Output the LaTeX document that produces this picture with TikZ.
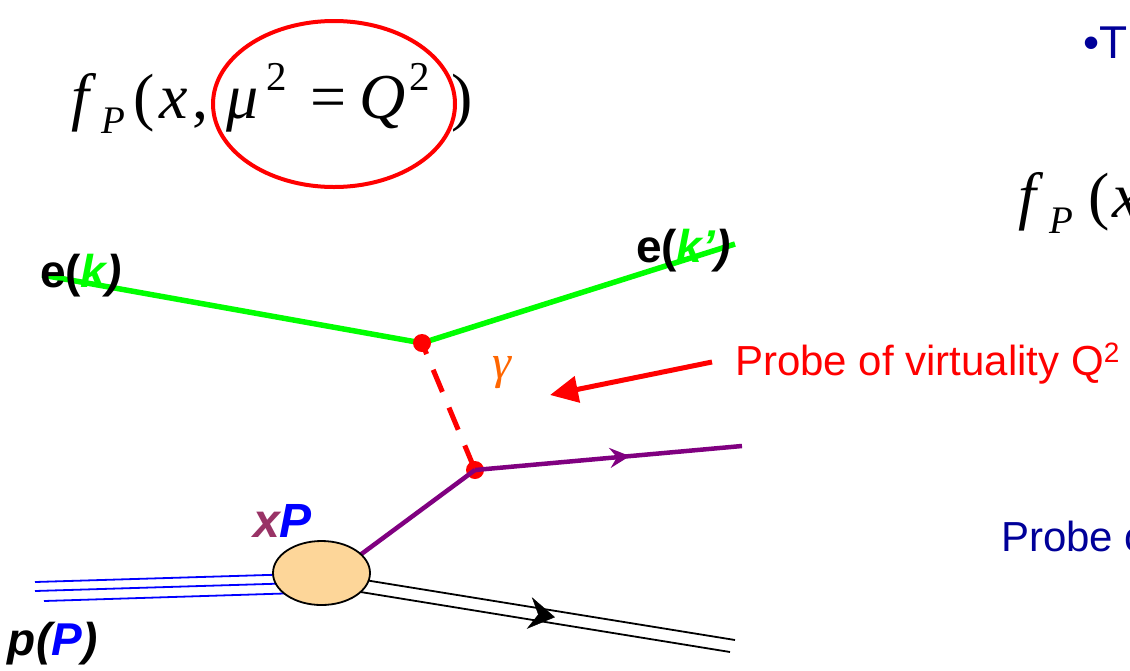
\documentclass[tikz,border=0pt]{standalone}
\usepackage{fontspec}
\setmainfont{Liberation Sans}
\newfontfamily\tnr{Liberation Serif}
\usetikzlibrary{arrows.meta,decorations.markings,shapes.geometric}
\newcommand\myfs[1]{\fontsize{#1}{#1}\selectfont}
\definecolor{egreen}{RGB}{0,255,0}
\definecolor{qpurple}{RGB}{128,0,128}
\definecolor{xmaroon}{RGB}{153,51,102}
\definecolor{pblue}{RGB}{0,0,255}
\definecolor{navy}{RGB}{0,0,153}
\definecolor{gorange}{RGB}{255,102,0}
\definecolor{blobfill}{RGB}{253,214,153}
\begin{document}
\begin{tikzpicture}[x=1pt,y=-1pt,
  lbl/.style={inner sep=0pt, outer sep=0pt, anchor=base west},
  mth/.style={inner sep=0pt, outer sep=0pt, anchor=base, font=\tnr\myfs{64}},
  mthi/.style={mth, font=\tnr\itshape\myfs{64}},
  msub/.style={inner sep=0pt, outer sep=0pt, anchor=base, font=\tnr\itshape\myfs{39}},
  msup/.style={inner sep=0pt, outer sep=0pt, anchor=base, font=\tnr\myfs{41}},
  vdot/.style={circle, fill=red, minimum size=18pt, inner sep=0pt},
  eline/.style={egreen, line width=5.5pt},
  qline/.style={qpurple, line width=4.5pt},
  pline/.style={pblue, line width=1.8pt},
  rline/.style={black, line width=1.8pt},
  blob/.style={ellipse, draw=black, line width=1.8pt, fill=blobfill, minimum width=97pt, minimum height=64pt, inner sep=0pt},
  midarrow/.style 2 args={postaction={decorate}, decoration={markings, mark=at position #1 with {\arrow{#2}}}}
]
\useasboundingbox (0,0) rectangle (1130,670);
\clip (0,0) rectangle (1130,670);

% ---------- formula top left ----------
\node[mthi] (fa) at (80.5,118) {f};
\node[msub] (fb) at (113.5,133) {P};
\node[mth]  (fc) at (144,118) {(};
\node[mthi] (fd) at (174,118) {x};
\node[mth]  (fe) at (200,118) {,};
\node[mthi] (ff) at (242.5,118) {μ};
\node[msup] (fg) at (277,90) {2};
\node[mth]  (fh) at (328.5,118) {=};
\node[mthi] (fi) at (383,118) {Q};
\node[msup] (fj) at (420,90) {2};
\node[mth]  (fk) at (462.5,118) {)};
\node[ellipse, draw=red, line width=4pt, minimum width=242pt, minimum height=166pt, inner sep=0pt] (ring) at (334,104) {};

% ---------- right side texts ----------
\node[lbl, font=\myfs{46}, text=navy] (bul) at (1083,58) {•T};
\node[mthi] (ga) at (1027,217) {f};
\node[msub] (gb) at (1061,233) {P};
\node[mth]  (gc) at (1099,217) {(};
\node[mthi] (gd) at (1127,217) {x};
\node[lbl, font=\myfs{42}, text=navy] (pr2) at (1001,551) {Probe o};

% ---------- coordinates ----------
\coordinate (ein) at (42,275);
\coordinate (v1c) at (422,343);
\coordinate (eout) at (735,244);
\coordinate (v2c) at (475,470);
\coordinate (qout) at (742,446);
\coordinate (qin) at (352,561);
\coordinate (b1s) at (35,582);
\coordinate (b1e) at (300,574);
\coordinate (b2s) at (35,591);
\coordinate (b2e) at (300,583);
\coordinate (b3s) at (44,601);
\coordinate (b3e) at (300,593);
\coordinate (r1s) at (340,576);
\coordinate (r1e) at (735,640);
\coordinate (r2s) at (336,588);
\coordinate (r2e) at (730,652);
\coordinate (rms) at (338,582);
\coordinate (rme) at (732.5,646);

% ---------- lines ----------
\draw[eline] (ein) -- (v1c) -- (eout);
\draw[red, line width=5pt, dash pattern=on 24pt off 17pt, dash phase=12pt] (v1c) -- (v2c);
\node[vdot] (v1) at (v1c) {};
\node[vdot] (v2) at (v2c) {};
\draw[qline] (qin) -- (v2c);
\draw[qline, midarrow={0.58}{Stealth[length=20pt,width=20pt,inset=7pt]}] (v2c) -- (qout);

\draw[pline] (b1s) -- (b1e);
\draw[pline] (b2s) -- (b2e);
\draw[pline] (b3s) -- (b3e);
\draw[rline] (r1s) -- (r1e);
\draw[rline] (r2s) -- (r2e);
\path[midarrow={0.55}{Stealth[length=26pt,width=32pt,inset=9pt,black]}] (rms) -- (rme);
\node[blob] (bl) at (321.5,573) {};

% ---------- labels ----------
\node[lbl, font=\bfseries\myfs{46}] (ek) at (40,287) {e(\textcolor{egreen}{\itshape k}\textit{)}};
\node[lbl, font=\bfseries\myfs{46}] (ekp) at (636,262) {e(\textcolor{egreen}{\itshape k’}\textit{)}};
\node[inner sep=0pt, anchor=base, font=\tnr\itshape\myfs{48}, text=gorange] (gam) at (502,378) {γ};
\node[lbl, font=\bfseries\itshape\myfs{48}] (xp) at (253,537) {\textcolor{xmaroon}{x}\textcolor{pblue}{P}};
\node[lbl, font=\bfseries\itshape\myfs{46}] (pp) at (8,655) {p(\textcolor{pblue}{P})};

% ---------- probe arrow ----------
\node[lbl, font=\myfs{42}, text=red] (probe) at (735,375) {Probe of virtuality Q\raisebox{13pt}{\myfs{28}2}};
\coordinate (atail) at (712,362);
\coordinate (atip) at (550,395);
\draw[red, line width=5pt, -{Triangle[length=28pt,width=26pt]}] (atail) -- (atip);
\end{tikzpicture}
\end{document}
